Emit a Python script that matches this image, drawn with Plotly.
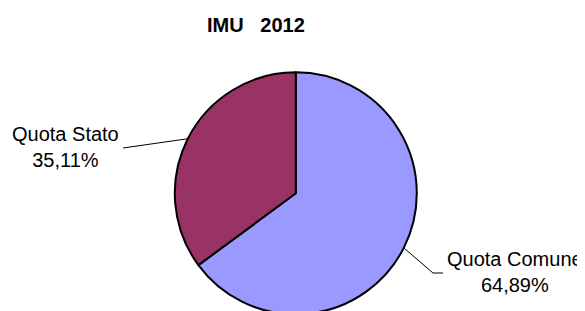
import math
import plotly.graph_objects as go

# ---- data ----
categories = ["Quota Comune", "Quota Stato"]
values = [64.89, 35.11]
value_labels = ["64,89%", "35,11%"]
colors = ["#9999FF", "#993366"]
title_text = "IMU   2012"

# ---- layout (pixels, figure coords; page body adds an 8px offset) ----
W, H = 585, 311
OFF = 8
R = 121.0
CX = 295.8 - OFF
CY = 193.3 - OFF
FONT = "Arial, Liberation Sans, sans-serif"


def px(x):
    return (x - OFF) / W


def py(y):
    return 1 - (y - OFF) / H


def fx(x):
    return x / W


def fy(y):
    return 1 - y / H


fig = go.Figure()
fig.add_trace(go.Pie(
    labels=categories,
    values=values,
    sort=False,
    direction="clockwise",
    rotation=0,
    textinfo="none",
    hoverinfo="label+percent",
    marker=dict(colors=colors, line=dict(color="black", width=2)),
    domain=dict(x=[fx(CX - R), fx(CX + R)], y=[fy(CY + R), fy(CY - R)]),
    showlegend=False,
))

# leader lines computed from slice mid-angles
total = sum(values)
cum = 0
attach = []
for v in values:
    mid = (cum + v / 2) / total * 360  # clockwise from 12 o'clock
    cum += v
    a = math.radians(90 - mid)
    attach.append((CX + R * math.cos(a), CY - R * math.sin(a)))

shapes = []
ax0, ay0 = attach[0]
shapes.append(dict(type="line", xref="paper", yref="paper",
                   x0=fx(ax0), y0=fy(ay0), x1=px(433), y1=py(273),
                   line=dict(color="black", width=1)))
shapes.append(dict(type="line", xref="paper", yref="paper",
                   x0=px(433), y0=py(273), x1=px(443), y1=py(273),
                   line=dict(color="black", width=1)))
ax1, ay1 = attach[1]
shapes.append(dict(type="line", xref="paper", yref="paper",
                   x0=fx(ax1), y0=fy(ay1), x1=px(123), y1=py(148),
                   line=dict(color="black", width=1)))

annotations = [
    dict(text=f"<b>{title_text}</b>", x=px(256), y=py(25), xref="paper", yref="paper",
         xanchor="center", yanchor="middle", showarrow=False,
         font=dict(family=FONT, size=20, color="black")),
    dict(text=f"{categories[0]}<br>{value_labels[0]}", x=px(515), y=py(272),
         xref="paper", yref="paper", xanchor="center", yanchor="middle",
         showarrow=False, font=dict(family=FONT, size=20, color="black")),
    dict(text=f"{categories[1]}<br>{value_labels[1]}", x=px(65), y=py(147),
         xref="paper", yref="paper", xanchor="center", yanchor="middle",
         showarrow=False, font=dict(family=FONT, size=20, color="black")),
]

fig.update_layout(
    width=W, height=H,
    margin=dict(l=0, r=0, t=0, b=0),
    paper_bgcolor="white", plot_bgcolor="white",
    shapes=shapes, annotations=annotations,
)

fig.write_html("out.html")
